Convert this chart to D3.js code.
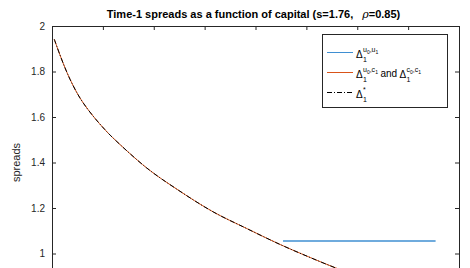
<!DOCTYPE html>
<html>
<head>
<meta charset="utf-8">
<script src="https://cdn.jsdelivr.net/npm/d3@7"></script>
<style>
  body { margin: 0; background: #fff; }
  svg { display: block; font-family: "Liberation Sans", Arial, sans-serif; }
</style>
</head>
<body>
<svg id="chart" width="470" height="268"></svg>
<script>
// values
var capital    = [0.022, 0.079, 0.128, 0.177, 0.243, 0.308, 0.406, 0.521, 0.602, 0.931, 1.226, 1.584, 1.913, 2.240, 2.534, 2.797, 3.05];
var spreadUC   = [1.942, 1.872, 1.816, 1.766, 1.708, 1.661, 1.603, 1.544, 1.507, 1.376, 1.283, 1.183, 1.110, 1.040, 0.983, 0.935, 0.893];
var spreadStar = [1.942, 1.872, 1.816, 1.766, 1.708, 1.661, 1.603, 1.544, 1.507, 1.376, 1.283, 1.183, 1.110, 1.040, 0.983, 0.935, 0.893];
var capitalUU = [2.27, 3.77];
var spreadUU  = [1.055, 1.055];
var xTicks = [0, 0.5, 1, 1.5, 2, 2.5, 3, 3.5, 4];
var yTicks = [1, 1.2, 1.4, 1.6, 1.8, 2];

var svg = d3.select("#chart");
var pLeft = 52, pRight = 459, pTop = 26, pBottom = 299;
var axisColor = "#262626";

var x = d3.scaleLinear().domain([0, 4]).range([pLeft, pRight]);
var y = d3.scaleLinear().domain([0.8, 2]).range([pBottom, pTop]);

// title
var title = svg.append("text")
    .attr("x", 253.5).attr("y", 18)
    .attr("text-anchor", "middle")
    .style("font-size", "11px").style("font-weight", "bold").attr("fill", "#000");
title.append("tspan").text("Time-1 spreads as a function of capital (s=1.76,");
title.append("tspan").attr("dx", 9).style("font-style", "italic").style("font-weight", "normal")
    .style("font-family", "'DejaVu Serif', serif").text("ρ");
title.append("tspan").text("=0.85)");

// axes (box with inward ticks); the bottom edge falls below the picture
function drawAxis(axis, tx, ty, labels) {
  var g = svg.append("g").attr("transform", "translate(" + tx + "," + ty + ")").call(axis);
  g.select(".domain").attr("stroke", axisColor);
  g.selectAll(".tick line").attr("stroke", axisColor);
  g.selectAll(".tick text").attr("fill", "#262626").style("font-size", "10px");
  if (!labels) g.selectAll(".tick text").remove();
  return g;
}
drawAxis(d3.axisLeft(y).tickValues(yTicks).tickSizeInner(-4).tickSizeOuter(0).tickPadding(7)
    .tickFormat(d3.format("")), pLeft, 0, true);
drawAxis(d3.axisRight(y).tickValues(yTicks).tickSizeInner(-4).tickSizeOuter(0), pRight, 0, false);
drawAxis(d3.axisTop(x).tickValues(xTicks).tickSizeInner(-4).tickSizeOuter(0), 0, pTop, false);

svg.append("text")
    .attr("transform", "translate(20," + ((pTop + pBottom) / 2) + ") rotate(-90)")
    .attr("text-anchor", "middle")
    .style("font-size", "11px").attr("fill", "#262626")
    .text("spreads");

// series
var line = d3.line().curve(d3.curveCatmullRom.alpha(0.5))
    .x(function(d) { return x(d[0]); })
    .y(function(d) { return y(d[1]); });

var plot = svg.append("g");
plot.append("path")
    .datum(d3.zip(capitalUU, spreadUU))
    .attr("d", line).attr("fill", "none")
    .attr("stroke", "#3f8fd2").attr("stroke-width", 1.4);
plot.append("path")
    .datum(d3.zip(capital, spreadUC))
    .attr("d", line).attr("fill", "none")
    .attr("stroke", "#D95319").attr("stroke-width", 1);
plot.append("path")
    .datum(d3.zip(capital, spreadStar))
    .attr("d", line).attr("fill", "none")
    .attr("stroke", "#000").attr("stroke-width", 1)
    .attr("stroke-dasharray", "5,2,1,2");

// legend
var lg = svg.append("g");
lg.append("rect")
    .attr("x", 322.5).attr("y", 34.5).attr("width", 125).attr("height", 73)
    .attr("fill", "#fff").attr("stroke", axisColor).attr("stroke-width", 1);

// Δ_1^{a_i,b_j}  as small stacked text pieces
function delta(g, x0, yc, sup) {
  var d = g.append("text").attr("x", x0).attr("y", yc + 5)
      .style("font-size", "10px").attr("fill", "#000").text("Δ");
  var w = d.node().getComputedTextLength() + 0.3;
  var sub = g.append("text").attr("x", x0 + w).attr("y", yc + 9)
      .style("font-size", "7px").attr("fill", "#000").text("1");
  var xs = x0 + w, sw = sub.node().getComputedTextLength();
  sup.forEach(function(p, i) {
    var t = g.append("text").attr("x", xs).attr("y", yc - 0.5)
        .style("font-size", "7px").attr("fill", "#000").text((i ? "," : "") + p[0]);
    xs += t.node().getComputedTextLength();
    if (p[1]) {
      var s = g.append("text").attr("x", xs).attr("y", yc + 1.5)
          .style("font-size", "5px").attr("fill", "#000").text(p[1]);
      xs += s.node().getComputedTextLength();
    }
  });
  return Math.max(xs, x0 + w + sw);
}

var rows = [52.5, 72.5, 92.5];
lg.append("line").attr("x1", 327).attr("x2", 353).attr("y1", rows[0]).attr("y2", rows[0])
    .attr("stroke", "#3f8fd2").attr("stroke-width", 1);
delta(lg, 356, rows[0], [["u", "0"], ["u", "1"]]);

lg.append("line").attr("x1", 327).attr("x2", 353).attr("y1", rows[1]).attr("y2", rows[1])
    .attr("stroke", "#D95319").attr("stroke-width", 1);
var e = delta(lg, 356, rows[1], [["u", "0"], ["c", "1"]]);
var andT = lg.append("text").attr("x", e + 2.5).attr("y", rows[1] + 4)
    .style("font-size", "10px").attr("fill", "#000").text("and");
delta(lg, e + 2.5 + andT.node().getComputedTextLength() + 2.5, rows[1], [["c", "0"], ["c", "1"]]);

lg.append("line").attr("x1", 327).attr("x2", 353).attr("y1", rows[2]).attr("y2", rows[2])
    .attr("stroke", "#000").attr("stroke-width", 1).attr("stroke-dasharray", "5,2,1,2");
delta(lg, 356, rows[2], [["*", ""]]);
</script>
</body>
</html>
